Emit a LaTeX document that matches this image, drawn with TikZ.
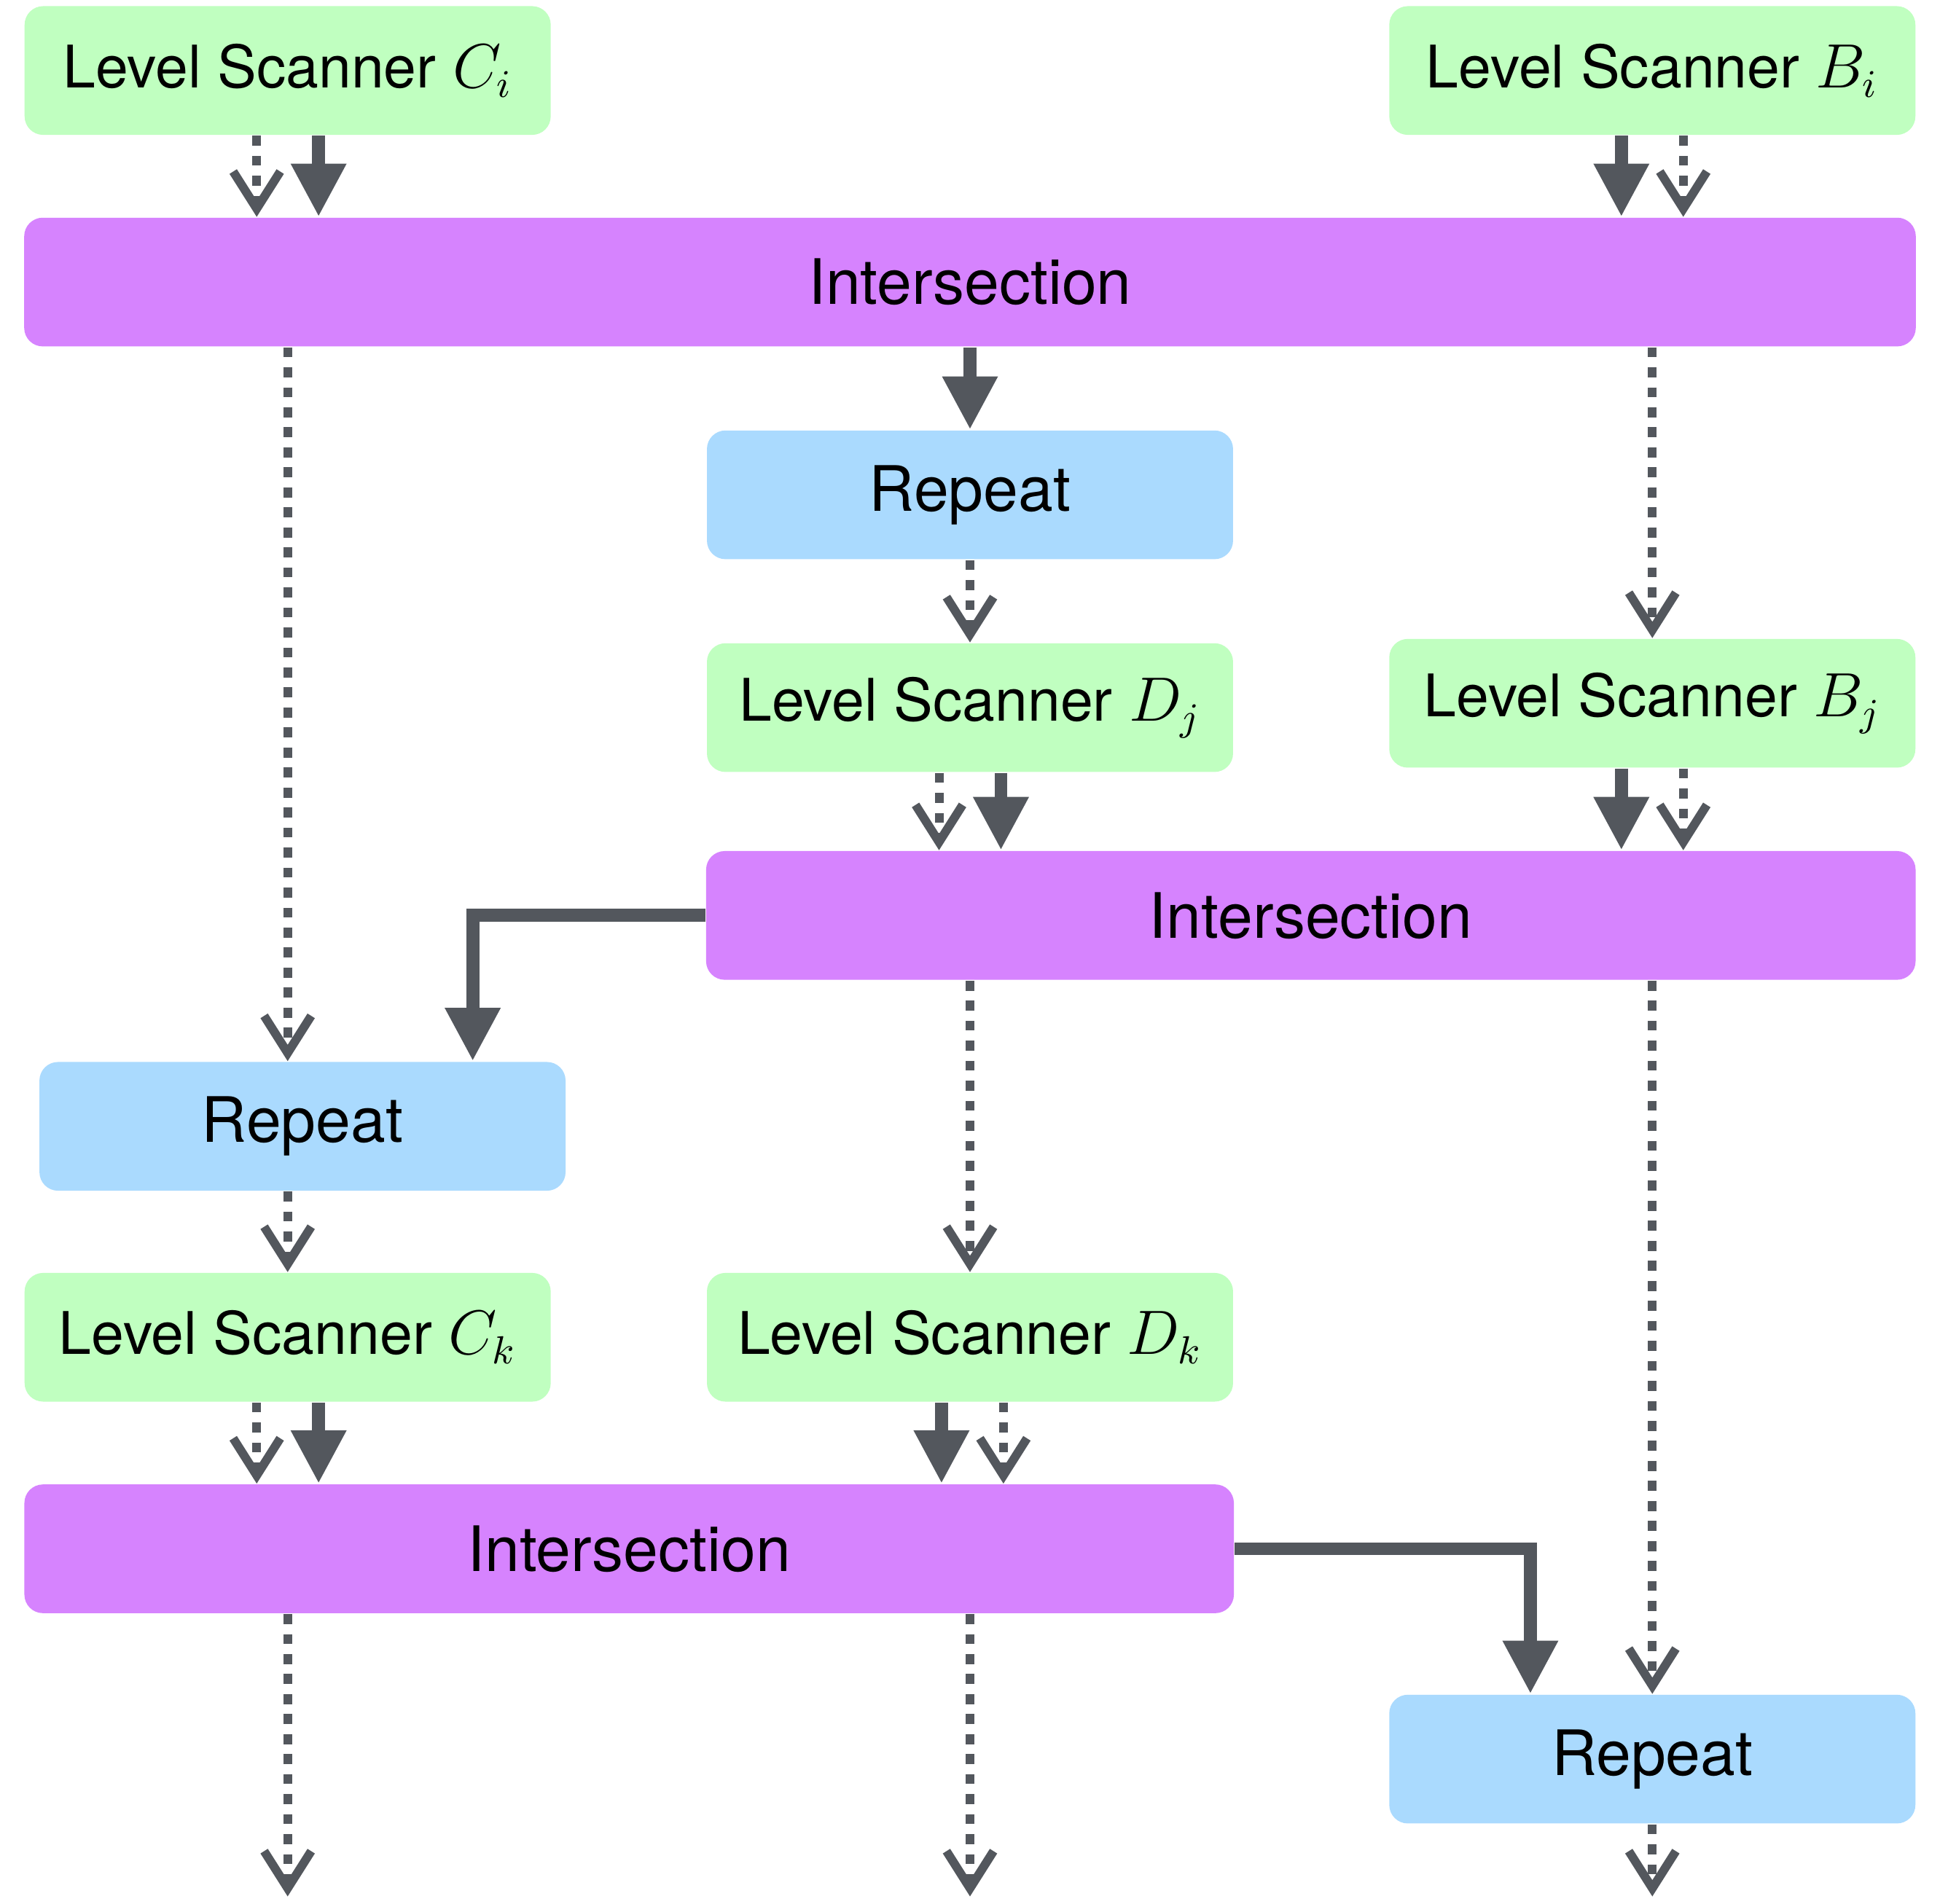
\documentclass[tikz,border=0pt]{standalone}
\usepackage{fontspec}
\setmainfont{TeX Gyre Heros}
\usetikzlibrary{arrows.meta, positioning}
\definecolor{scangreen}{HTML}{C0FFC0}
\definecolor{interpurple}{HTML}{D683FE}
\definecolor{repblue}{HTML}{AADAFE}
\definecolor{arrowgray}{HTML}{53575D}

\begin{document}
\begin{tikzpicture}[
        x=0.01cm, y=-0.01cm,
        box/.style={rectangle, rounded corners=0.15cm, minimum height=1.04cm, inner sep=0pt, align=center, font=\fontsize{14.4}{17}\selectfont},
        scan/.style={box, fill=scangreen, minimum width=4.25cm, font=\fontsize{13.5}{17}\selectfont},
        rep/.style={box, fill=repblue, minimum width=4.25cm},
        inter/.style={box, fill=interpurple},
        solidarrow/.style={-{Triangle[length=0.43cm, width=0.42cm]}, line width=3pt, draw=arrowgray},
        dotarrow/.style={-{Straight Barb[length=0.3cm, width=0.38cm]}, line width=2pt, draw=arrowgray, dash pattern=on 2.3pt off 2.3pt},
        node distance=0.665cm and 1.265cm
    ]
        \useasboundingbox (0,0) rectangle (1568,1539);

        % Scanners and intersections
        \node[scan] (ci) at (232.5,57) {Level Scanner $C_i$};
        \node[scan] (bi) at (1335.5,57) {Level Scanner $B_i$};
        \node[inter, minimum width=15.28cm] (int1) at (784,228) {Intersection};
        \node[rep, below=of int1] (rep1) {Repeat};
        \node[scan, below=of rep1] (dj) {Level Scanner $D_j$};
        \node[scan] (bj) at (1335.5,568.5) {Level Scanner $B_j$};
        \node[inter, minimum width=9.77cm] (int2) at (1059.5,740) {Intersection};
        \node[rep] (rep2) at (244.5,910.5) {Repeat};
        \node[scan] (ck) at (232.5,1081) {Level Scanner $C_k$};
        \node[scan] (dk) at (784,1081) {Level Scanner $D_k$};
        \node[inter, minimum width=9.77cm] (int3) at (508.5,1252) {Intersection};
        \node[rep] (rep3) at (1335.5,1422) {Repeat};

        % Loose ends
        \coordinate (out1) at (232.5,1533);
        \coordinate (out2) at (784,1533);
        \coordinate (out3) at (1335.5,1533);

        % Arrows into the first intersection
        \draw[dotarrow] ([xshift=-2.5mm]ci.south) -- ([xshift=-2.5mm]ci.south |- int1.north);
        \draw[solidarrow] ([xshift=2.5mm]ci.south) -- ([xshift=2.5mm]ci.south |- int1.north);
        \draw[solidarrow] ([xshift=-2.5mm]bi.south) -- ([xshift=-2.5mm]bi.south |- int1.north);
        \draw[dotarrow] ([xshift=2.5mm]bi.south) -- ([xshift=2.5mm]bi.south |- int1.north);

        % Out of the first intersection
        \draw[solidarrow] (int1) -- (rep1);
        \draw[dotarrow] (ci.south |- int1.south) -- (ci.south |- rep2.north);
        \draw[dotarrow] (bj.north |- int1.south) -- (bj.north);
        \draw[dotarrow] (rep1) -- (dj);

        % Arrows into the second intersection
        \draw[dotarrow] ([xshift=-2.5mm]dj.south) -- ([xshift=-2.5mm]dj.south |- int2.north);
        \draw[solidarrow] ([xshift=2.5mm]dj.south) -- ([xshift=2.5mm]dj.south |- int2.north);
        \draw[solidarrow] ([xshift=-2.5mm]bj.south) -- ([xshift=-2.5mm]bj.south |- int2.north);
        \draw[dotarrow] ([xshift=2.5mm]bj.south) -- ([xshift=2.5mm]bj.south |- int2.north);

        % Out of the second intersection
        \draw[solidarrow] (int2.west) -| ([xshift=1.375cm]rep2.north);
        \draw[dotarrow] (dk.north |- int2.south) -- (dk.north);
        \draw[dotarrow] (rep3.north |- int2.south) -- (rep3.north);
        \draw[dotarrow] (ck.north |- rep2.south) -- (ck.north);

        % Arrows into the third intersection
        \draw[dotarrow] ([xshift=-2.5mm]ck.south) -- ([xshift=-2.5mm]ck.south |- int3.north);
        \draw[solidarrow] ([xshift=2.5mm]ck.south) -- ([xshift=2.5mm]ck.south |- int3.north);
        \draw[solidarrow] ([xshift=-2.3mm]dk.south) -- ([xshift=-2.3mm]dk.south |- int3.north);
        \draw[dotarrow] ([xshift=2.7mm]dk.south) -- ([xshift=2.7mm]dk.south |- int3.north);

        % Out of the third intersection
        \draw[solidarrow] (int3.east) -| ([xshift=-0.985cm]rep3.north);
        \draw[dotarrow] (ck.south |- int3.south) -- (out1);
        \draw[dotarrow] (dk.south |- int3.south) -- (out2);
        \draw[dotarrow] (rep3) -- (out3);
    \end{tikzpicture}
\end{document}
